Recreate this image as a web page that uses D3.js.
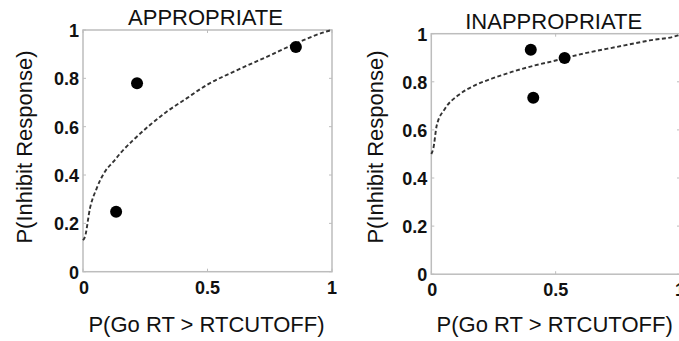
<!DOCTYPE html>
<html>
  <head>
    <meta charset="utf-8">
    <title>Inhibit response</title>
    <script src="https://d3js.org/d3.v7.min.js"></script>
    <style>
      body { margin: 0; background: #fff; }
      svg { display: block; font-family: "Liberation Sans", Arial, sans-serif; }
      .frame { fill: none; stroke: #bdbdbd; stroke-width: 1.5; }
      .tick-mark { stroke: #bdbdbd; stroke-width: 1; }
      .tick-label { font-size: 18px; font-weight: bold; fill: #111; }
      .axis-label, .title { font-size: 22px; fill: #111; }
      .fit { fill: none; stroke: #333; stroke-width: 1.9; stroke-dasharray: 4 2.5; }
      .dot { fill: #000; }
    </style>
  </head>
  <body>
    <svg id="chart" width="679" height="341"></svg>
    <script>
      // chart data
      var panelTitles = ["APPROPRIATE", "INAPPROPRIATE"];
      var xTicks = [0, 0.5, 1];
      var yTicks = [0, 0.2, 0.4, 0.6, 0.8, 1];
      var xLabel = "P(Go RT > RTCUTOFF)";
      var yLabel = "P(Inhibit Response)";

      var appropriateX = [0.133, 0.217, 0.855];
      var appropriateY = [0.248, 0.78, 0.93];
      var appropriateFitX = [0, 0.008, 0.028, 0.055, 0.088, 0.122, 0.155, 0.202, 0.269, 0.336, 0.416, 0.47, 0.503, 0.604, 0.738, 0.871, 0.985, 1];
      var appropriateFitY = [0.13, 0.145, 0.262, 0.345, 0.414, 0.455, 0.496, 0.545, 0.607, 0.662, 0.717, 0.755, 0.776, 0.827, 0.889, 0.952, 0.996, 1];

      var inappropriateX = [0.40, 0.41, 0.536];
      var inappropriateY = [0.933, 0.734, 0.899];
      var inappropriateFitX = [0, 0.008, 0.022, 0.055, 0.108, 0.175, 0.243, 0.323, 0.416, 0.49, 0.61, 0.745, 0.878, 0.992, 1];
      var inappropriateFitY = [0.5, 0.522, 0.619, 0.688, 0.744, 0.785, 0.813, 0.841, 0.868, 0.886, 0.917, 0.945, 0.972, 0.993, 1];

      var panels = [
        { title: panelTitles[0], px: appropriateX, py: appropriateY, fx: appropriateFitX, fy: appropriateFitY,
          left: 83, right: 332, top: 30, bottom: 271.7, yLabelX: 24 },
        { title: panelTitles[1], px: inappropriateX, py: inappropriateY, fx: inappropriateFitX, fy: inappropriateFitY,
          left: 431.3, right: 680, top: 33.7, bottom: 274.2, yLabelX: 375 }
      ];

      var chart = d3.select("#chart");

      panels.forEach(function(p) {
        var x = d3.scaleLinear().domain([0, 1]).range([p.left, p.right]);
        var y = d3.scaleLinear().domain([0, 1]).range([p.bottom, p.top]);
        var g = chart.append("g");

        // frame
        g.append("rect")
          .attr("class", "frame")
          .attr("x", p.left).attr("y", p.top)
          .attr("width", p.right - p.left).attr("height", p.bottom - p.top);

        // inner ticks on all four sides
        var tl = 3;
        xTicks.forEach(function(t) {
          g.append("line").attr("class", "tick-mark")
            .attr("x1", x(t)).attr("x2", x(t)).attr("y1", p.bottom).attr("y2", p.bottom - tl);
          g.append("line").attr("class", "tick-mark")
            .attr("x1", x(t)).attr("x2", x(t)).attr("y1", p.top).attr("y2", p.top + tl);
        });
        yTicks.forEach(function(t) {
          g.append("line").attr("class", "tick-mark")
            .attr("x1", p.left).attr("x2", p.left + tl).attr("y1", y(t)).attr("y2", y(t));
          g.append("line").attr("class", "tick-mark")
            .attr("x1", p.right).attr("x2", p.right - tl).attr("y1", y(t)).attr("y2", y(t));
        });

        // tick labels
        g.selectAll(".ytl")
          .data(yTicks)
          .enter().append("text")
            .attr("class", "tick-label")
            .attr("text-anchor", "end")
            .attr("x", p.left - 4)
            .attr("y", function(d) { return y(d) + 7; })
            .text(function(d) { return d3.format("")(d); });
        g.selectAll(".xtl")
          .data(xTicks)
          .enter().append("text")
            .attr("class", "tick-label")
            .attr("text-anchor", function(d) { return d == 0 ? "start" : "middle"; })
            .attr("x", function(d) { return d == 0 ? x(d) - 4 : x(d); })
            .attr("y", p.bottom + 22)
            .text(function(d) { return d3.format("")(d); });

        // fitted curve
        var line = d3.line()
          .x(function(d, i) { return x(p.fx[i]); })
          .y(function(d, i) { return y(p.fy[i]); })
          .curve(d3.curveMonotoneX);
        g.append("path")
          .attr("class", "fit")
          .attr("d", line(p.fx));

        // observed points
        g.selectAll(".dot")
          .data(p.px)
          .enter().append("circle")
            .attr("class", "dot")
            .attr("cx", function(d) { return x(d); })
            .attr("cy", function(d, i) { return y(p.py[i]); })
            .attr("r", 6);

        // titles and labels
        var cx = (p.left + p.right) / 2;
        g.append("text")
          .attr("class", "title")
          .attr("text-anchor", "middle")
          .attr("x", cx - 2)
          .attr("y", p.top - 5)
          .text(p.title);
        g.append("text")
          .attr("class", "axis-label")
          .attr("text-anchor", "middle")
          .attr("x", cx - 1)
          .attr("y", 332)
          .text(xLabel);
        g.append("text")
          .attr("class", "axis-label")
          .attr("text-anchor", "middle")
          .attr("transform", "translate(" + (p.yLabelX + 8) + "," + 147 + ") rotate(-90)")
          .text(yLabel);
      });
    </script>
  </body>
</html>
